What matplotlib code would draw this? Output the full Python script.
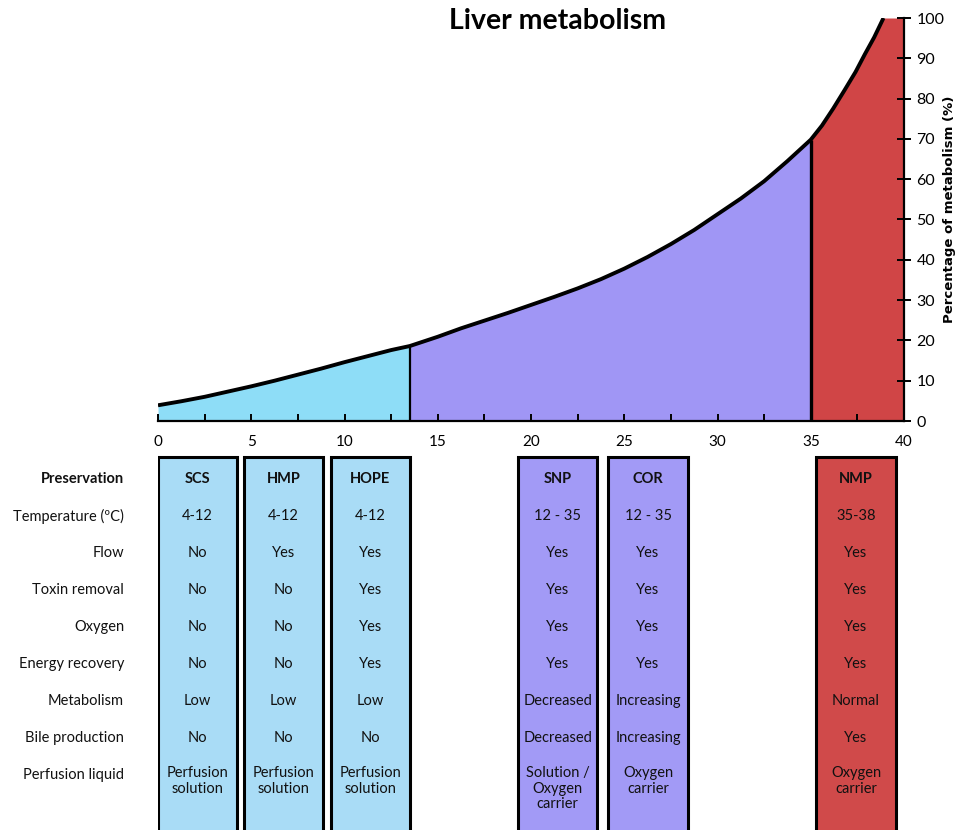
import matplotlib.pyplot as plt
from matplotlib.patches import Rectangle

plt.rcParams['font.family'] = ['Lato', 'DejaVu Sans']

# ---------------------------------------------------------------
# curve: temperature (x) vs percentage of metabolism (y)
temp = [0, 1.25, 2.5, 3.75, 5, 6.25, 7.5, 8.75, 10, 11.25, 12.5, 13.5,
        15, 16.25, 17.5, 18.75, 20, 21.25, 22.5, 23.75, 25, 26.25, 27.5,
        28.75, 30, 31.25, 32.5, 33.75, 35, 35.6, 36.2, 36.8, 37.4, 37.9,
        38.4, 38.9]
metab = [3.9, 4.9, 6.0, 7.3, 8.6, 10.0, 11.5, 13.0, 14.6, 16.1, 17.6, 18.6,
         20.9, 23.0, 24.9, 26.8, 28.8, 30.8, 32.9, 35.2, 37.8, 40.7, 43.9,
         47.4, 51.3, 55.2, 59.5, 64.5, 69.8, 73.3, 77.5, 82.0, 86.6, 91.0,
         95.2, 100]
cold_end = 13.5   # end of the hypothermic zone
warm_end = 35     # start of the normothermic zone
x_max = 40
y_max = 100

# ---------------------------------------------------------------
# table
row_labels = ['Preservation', 'Temperature (ºC)', 'Flow', 'Toxin removal',
              'Oxygen', 'Energy recovery', 'Metabolism', 'Bile production',
              'Perfusion liquid']
methods = ['SCS', 'HMP', 'HOPE', 'SNP', 'COR', 'NMP']
scs = ['4-12', 'No', 'No', 'No', 'No', 'Low', 'No', 'Perfusion\nsolution']
hmp = ['4-12', 'Yes', 'No', 'No', 'No', 'Low', 'No', 'Perfusion\nsolution']
hope = ['4-12', 'Yes', 'Yes', 'Yes', 'Yes', 'Low', 'No', 'Perfusion\nsolution']
snp = ['12 - 35', 'Yes', 'Yes', 'Yes', 'Yes', 'Decreased', 'Decreased',
       'Solution /\nOxygen\ncarrier']
cor = ['12 - 35', 'Yes', 'Yes', 'Yes', 'Yes', 'Increasing', 'Increasing',
       'Oxygen\ncarrier']
nmp = ['35-38', 'Yes', 'Yes', 'Yes', 'Yes', 'Normal', 'Yes', 'Oxygen\ncarrier']
columns = [scs, hmp, hope, snp, cor, nmp]
zone = ['cold', 'cold', 'cold', 'sub', 'sub', 'warm']

# ---------------------------------------------------------------
# layout / style
fill_col = {'cold': '#8EDDF7', 'sub': '#A096F5', 'warm': '#D04546'}
box_col = {'cold': '#A9DCF6', 'sub': '#A29AF6', 'warm': '#D04A4A'}
box_left = [0, 4.6, 9.26, 19.3, 24.15, 35.3]
box_w = 4.25
fs = 10.5

fig = plt.figure(figsize=(9.58, 8.3), dpi=100)
ax = fig.add_axes([158/958, 1-421/830, 746/958, 403/830])

cold = [t <= cold_end for t in temp]
sub = [cold_end <= t <= warm_end for t in temp]
ax.fill_between(temp, metab, where=cold, color=fill_col['cold'], lw=0)
ax.fill_between(temp, metab, where=sub, color=fill_col['sub'], lw=0)
red_x = [t for t in temp if t >= warm_end] + [x_max]
red_y = [m for t, m in zip(temp, metab) if t >= warm_end] + [y_max]
ax.fill_between(red_x, red_y, color=fill_col['warm'], lw=0)

ax.plot(temp, metab, color='black', lw=2.8, solid_capstyle='butt',
        solid_joinstyle='round', zorder=3)
ax.vlines(cold_end, 0, metab[temp.index(cold_end)], color='black', lw=1.6)
ax.vlines(warm_end, 0, metab[temp.index(warm_end)], color='black', lw=2.4)

ax.set_xlim(0, x_max)
ax.set_ylim(0, y_max)
ax.spines['left'].set_visible(False)
ax.spines['top'].set_visible(False)
ax.spines['bottom'].set_linewidth(1.6)
ax.spines['right'].set_linewidth(1.6)

ax.set_xticks(range(0, 41, 5))
ax.set_xticks([i + 2.5 for i in range(0, 40, 5)], minor=True)
ax.tick_params(axis='x', which='both', direction='in', length=5, width=1.4,
               pad=10, labelsize=11)
ax.yaxis.tick_right()
ax.set_yticks(range(0, 101, 10))
ax.tick_params(axis='y', direction='inout', length=10, width=1.4, pad=4,
               labelsize=11.5)
ax.text((949-158)/746, 0.525, 'Percentage of metabolism (%)',
        transform=ax.transAxes, rotation=90, ha='center', va='center',
        family='DejaVu Sans', fontweight='bold', fontsize=9.5)

ax.text(0.536, 0.9926, 'Liver metabolism', transform=ax.transAxes,
        ha='center', va='center', fontsize=20.5, fontweight='bold')

# ---------------------------------------------------------------
# table underneath
tab = fig.add_axes([158/958, 0, 746/958, 380/830])
tab.set_xlim(0, x_max)
tab.set_ylim(9.486, -0.784)
tab.axis('off')

for i, lab in enumerate(row_labels):
    tab.text(-1.82, i, lab, ha='right', va='center', fontsize=fs,
             fontweight='bold' if i == 0 else 'normal', clip_on=False,
             color='#111111')

for left, name, vals, z in zip(box_left, methods, columns, zone):
    tab.add_patch(Rectangle((left, -0.595), box_w, 11, facecolor=box_col[z],
                            edgecolor='black', lw=2.2))
    cx = left + box_w / 2
    tab.text(cx, 0, name, ha='center', va='center', fontsize=fs,
             fontweight='bold', color='#111111')
    for j, v in enumerate(vals):
        r = j + 1
        if '\n' in v:
            tab.text(cx, r - 0.24, v, ha='center', va='top', fontsize=fs,
                     color='#111111', linespacing=1.15)
        else:
            tab.text(cx, r, v, ha='center', va='center', fontsize=fs,
                     color='#111111')

fig.savefig('out.png', dpi=100)
